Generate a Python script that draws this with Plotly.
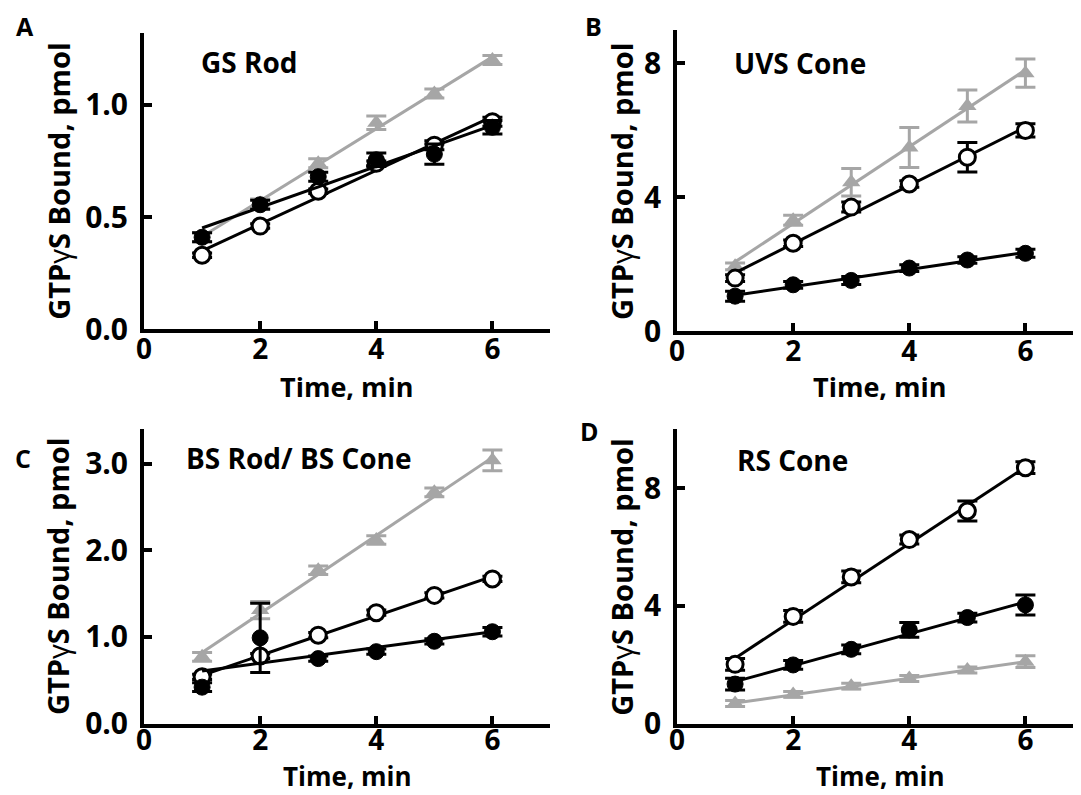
import numpy as np
import plotly.graph_objects as go

# ---------------- data ----------------
time_min = [1, 2, 3, 4, 5, 6]

# Panel A: GS Rod
a_gray = [0.41, 0.56, 0.74, 0.92, 1.05, 1.20]
a_gray_err = [0.02, 0.02, 0.02, 0.03, 0.02, 0.02]
a_open = [0.33, 0.46, 0.615, 0.74, 0.82, 0.925]
a_open_err = [0.01, 0.01, 0.01, 0.01, 0.02, 0.02]
a_fill = [0.41, 0.555, 0.68, 0.755, 0.78, 0.90]
a_fill_err = [0.02, 0.02, 0.02, 0.03, 0.045, 0.03]

# Panel B: UVS Cone
b_gray = [1.94, 3.32, 4.45, 5.49, 6.73, 7.71]
b_gray_err = [0.10, 0.15, 0.41, 0.60, 0.48, 0.42]
b_open = [1.59, 2.63, 3.71, 4.40, 5.20, 6.00]
b_open_err = [0.10, 0.10, 0.15, 0.10, 0.44, 0.20]
b_fill = [1.05, 1.39, 1.52, 1.89, 2.13, 2.33]
b_fill_err = [0.15, 0.10, 0.12, 0.10, 0.10, 0.12]

# Panel C: BS Rod / BS Cone
c_gray = [0.77, 1.31, 1.77, 2.12, 2.67, 3.04]
c_gray_err = [0.05, 0.10, 0.05, 0.05, 0.05, 0.12]
c_open = [0.54, 0.78, 1.02, 1.28, 1.48, 1.67]
c_open_err = [0.03, 0.03, 0.03, 0.03, 0.03, 0.03]
c_fill = [0.42, 0.99, 0.75, 0.83, 0.95, 1.06]
c_fill_err = [0.05, 0.40, 0.03, 0.03, 0.03, 0.05]

# Panel D: RS Cone
d_gray = [0.68, 0.99, 1.27, 1.53, 1.82, 2.10]
d_gray_err = [0.10, 0.10, 0.10, 0.10, 0.10, 0.20]
d_open = [2.01, 3.64, 4.98, 6.25, 7.22, 8.69]
d_open_err = [0.20, 0.20, 0.20, 0.15, 0.34, 0.20]
d_fill = [1.34, 1.99, 2.52, 3.18, 3.60, 4.03]
d_fill_err = [0.20, 0.15, 0.15, 0.25, 0.15, 0.34]

panel_titles = ["GS Rod", "UVS Cone", "BS Rod/ BS Cone", "RS Cone"]
panel_letters = ["A", "B", "C", "D"]
x_ticks = [0, 2, 4, 6]
y_ticks = {
    "A": ([0, 0.5, 1.0], ["0.0", "0.5", "1.0"]),
    "B": ([0, 4, 8], ["0", "4", "8"]),
    "C": ([0, 1, 2, 3], ["0.0", "1.0", "2.0", "3.0"]),
    "D": ([0, 4, 8], ["0", "4", "8"]),
}
y_ranges = {"A": [0, 1.32], "B": [0, 9], "C": [0, 3.4], "D": [0, 10]}
x_label = "Time, min"
y_label = "GTP<span style='font-weight:normal'>γ</span>S Bound, pmol"

# ---------------- layout geometry ----------------
W, H = 1073, 800
X_OFF = 13      # observed horizontal offset of the page
Y_OFF = 8       # observed vertical offset of the page
Y_SCALE = 0.977  # observed vertical compression
FONT = "Open Sans"
GRAY = "#a6a6a6"
UNIT_X = 58.5


def px_x(p):
    return (p - X_OFF) / W


def px_y(p):
    return 1 - ((p - Y_OFF) / Y_SCALE) / H


RIGHT = W + X_OFF  # right edge of the figure in window pixels

panels = {
    "A": dict(ax="", x=(142, 142 + 7 * UNIT_X), y=(33, 330), xr=[0, 7.0],
              data=(a_gray, a_gray_err, a_open, a_open_err, a_fill, a_fill_err),
              letter=(22, 26), title=(248, 62), ytitle_x=55,
              xtitle_dy=57, xtitle_size=27, xstand=-8),
    "B": dict(ax="2", x=(679, RIGHT), y=(30, 332), xr=[0, (RIGHT - 679) / UNIT_X],
              data=(b_gray, b_gray_err, b_open, b_open_err, b_fill, b_fill_err),
              letter=(595, 26), title=(803, 63), ytitle_x=623,
              xtitle_dy=55, xtitle_size=27, xstand=-8),
    "C": dict(ax="3", x=(142, 142 + 7 * UNIT_X), y=(430, 725), xr=[0, 7.0],
              data=(c_gray, c_gray_err, c_open, c_open_err, c_fill, c_fill_err),
              letter=(20, 459), title=(298, 459), ytitle_x=55,
              xtitle_dy=53, xtitle_size=26, xstand=-11),
    "D": dict(ax="4", x=(679, RIGHT), y=(430, 725), xr=[0, (RIGHT - 679) / UNIT_X],
              data=(d_gray, d_gray_err, d_open, d_open_err, d_fill, d_fill_err),
              letter=(591, 432), title=(795, 461), ytitle_x=623,
              xtitle_dy=53, xtitle_size=26, xstand=-11),
}

fig = go.Figure()
annotations = []
layout_axes = {}

for i, key in enumerate(["A", "B", "C", "D"]):
    p = panels[key]
    sfx = p["ax"]
    xa, ya = "x" + sfx, "y" + sfx
    gray, gray_e, opn, opn_e, fil, fil_e = p["data"]

    series = [
        (gray, gray_e, dict(symbol="triangle-up", size=16, color=GRAY,
                             line=dict(width=0)), GRAY),
        (opn, opn_e, dict(symbol="circle", size=16, color="white",
                           line=dict(width=3, color="black")), "black"),
        (fil, fil_e, dict(symbol="circle", size=16, color="black",
                           line=dict(width=1, color="black")), "black"),
    ]
    for vals, errs, mk, col in series:
        slope, icpt = np.polyfit(time_min, vals, 1)
        xs = [time_min[0], time_min[-1]]
        fig.add_trace(go.Scatter(
            x=xs, y=[slope * v + icpt for v in xs], mode="lines",
            line=dict(color=col, width=3), xaxis=xa, yaxis=ya,
            hoverinfo="skip", showlegend=False))
        fig.add_trace(go.Scatter(
            x=time_min, y=vals, mode="markers", marker=mk,
            error_y=dict(type="data", array=errs, color=col, thickness=3, width=10),
            xaxis=xa, yaxis=ya, showlegend=False, cliponaxis=False))

    xd = [max(0, px_x(p["x"][0])), min(1, px_x(p["x"][1]))]
    yd = [px_y(p["y"][1]), px_y(p["y"][0])]
    axis_common = dict(showline=True, linewidth=4, linecolor="black",
                       ticks="inside", ticklen=8, tickwidth=4, tickcolor="black",
                       showgrid=False, zeroline=False)
    xname = "xaxis" + sfx
    yname = "yaxis" + sfx
    layout_axes[xname] = dict(domain=xd, range=p["xr"], anchor=ya,
                              tickvals=x_ticks, ticktext=[str(t) for t in x_ticks],
                              ticklabelstandoff=p["xstand"],
                              tickfont=dict(family=FONT, size=28, color="black", weight="bold"),
                              **axis_common)
    tv, tt = y_ticks[key]
    layout_axes[yname] = dict(domain=yd, range=y_ranges[key], anchor=xa,
                              tickvals=tv, ticktext=tt, ticklabelstandoff=6,
                              tickfont=dict(family=FONT, size=30, color="black", weight="bold"),
                              **axis_common)

    # x-axis title centered on axis range
    annotations.append(dict(text=x_label, xref=xa, yref="paper",
                            x=3.5, y=px_y(p["y"][1] + p["xtitle_dy"]), xanchor="center",
                            yanchor="middle", showarrow=False,
                            font=dict(family=FONT, size=p["xtitle_size"], color="black",
                                      weight="bold")))
    # y-axis title
    annotations.append(dict(text=y_label, xref="paper", yref="paper",
                            x=px_x(p["ytitle_x"]),
                            y=px_y((p["y"][0] + p["y"][1]) / 2),
                            textangle=-90, xanchor="center", yanchor="middle",
                            showarrow=False,
                            font=dict(family=FONT, size=29, color="black", weight="bold")))
    # panel title
    annotations.append(dict(text=panel_titles[i], xref="paper", yref="paper",
                            x=px_x(p["title"][0]), y=px_y(p["title"][1]),
                            xanchor="center", yanchor="middle", showarrow=False,
                            font=dict(family=FONT, size=28, color="black", weight="bold")))
    # panel letter
    annotations.append(dict(text=panel_letters[i], xref="paper", yref="paper",
                            x=px_x(p["letter"][0]), y=px_y(p["letter"][1]),
                            xanchor="center", yanchor="middle", showarrow=False,
                            font=dict(family=FONT, size=25, color="black", weight="bold")))

fig.update_layout(
    width=W, height=H, margin=dict(l=0, r=0, t=0, b=0),
    paper_bgcolor="white", plot_bgcolor="white", showlegend=False,
    annotations=annotations, **layout_axes)

fig.write_html("out.html")
